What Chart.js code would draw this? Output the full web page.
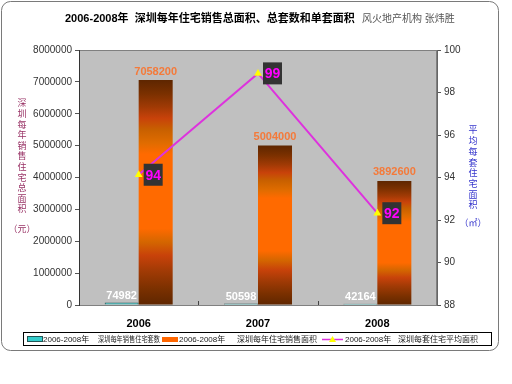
<!DOCTYPE html>
<html>
<head>
<meta charset="utf-8">
<script src="https://cdn.jsdelivr.net/npm/chart.js@4"></script>
<style>
  body { margin: 0; background: #fff; }
  canvas { display: block; }
</style>
</head>
<body>
<canvas id="myChart" width="512" height="384"></canvas>
<script>
// data
var years = ['2006', '2007', '2008'];
var unitCounts = [74982, 50598, 42164];          // 套数
var totalArea = [7058200, 5004000, 3892600];     // 总面积
var avgArea = [94.13, 98.90, 92.32];             // 单套面积
var avgLabels = ['94', '99', '92'];

var seriesNames = [
  ['2006-2008年', '深圳每年销售住宅套数'],
  ['2006-2008年', '深圳每年住宅销售面积'],
  ['2006-2008年', '深圳每套住宅平均面积']
];

var FONT = '"Liberation Sans", "Noto Sans CJK SC", sans-serif';

// brown -> orange -> brown banding of the big bars
function barGradient(c) {
  if (c.type !== 'data') return '#ff6600';
  var chart = c.chart;
  var y = chart.scales.y;
  if (!chart.chartArea || !y) return '#ff6600';
  var top = y.getPixelForValue(c.raw), base = y.getPixelForValue(0);
  var g = chart.ctx.createLinearGradient(0, top, 0, base);
  g.addColorStop(0, '#5e2600');
  g.addColorStop(0.06, '#7a3000');
  g.addColorStop(0.12, '#a03a05');
  g.addColorStop(0.17, '#c8420a');
  g.addColorStop(0.22, '#c86000');
  g.addColorStop(0.28, '#e06c00');
  g.addColorStop(0.33, '#ff6a00');
  g.addColorStop(0.66, '#ff6a00');
  g.addColorStop(0.72, '#d46600');
  g.addColorStop(0.78, '#c8420a');
  g.addColorStop(0.85, '#a03a05');
  g.addColorStop(0.93, '#7a3000');
  g.addColorStop(1, '#5e2600');
  return g;
}

var decor = {
  id: 'decor',
  beforeDraw: function(chart) {
    var ctx = chart.ctx, a = chart.chartArea;
    ctx.save();
    ctx.fillStyle = '#fff';
    ctx.fillRect(0, 0, chart.width, chart.height);
    // outer frame
    ctx.strokeStyle = '#7a7a7a';
    ctx.lineWidth = 1;
    ctx.beginPath();
    ctx.roundRect(1.5, 1.5, 497, 349, 9);
    ctx.stroke();
    // plot area
    ctx.fillStyle = '#c0c0c0';
    ctx.fillRect(a.left, a.top, a.right - a.left, a.bottom - a.top);
    ctx.strokeStyle = '#808080';
    ctx.strokeRect(a.left + 0.5, a.top + 0.5, a.right - a.left - 1, a.bottom - a.top);
    ctx.restore();
  },
  afterDraw: function(chart) {
    var ctx = chart.ctx, a = chart.chartArea;
    ctx.save();
    // title
    ctx.textBaseline = 'middle';
    ctx.textAlign = 'left';
    ctx.fillStyle = '#000';
    ctx.font = 'bold 11px ' + FONT;
    ctx.fillText('2006-2008年  深圳每年住宅销售总面积、总套数和单套面积', 65, 19, 291);
    ctx.fillStyle = '#555';
    ctx.font = '10px ' + FONT;
    ctx.fillText('风火地产机构 张炜胜', 362, 19, 93);

    // axis titles, one character per line
    ctx.textAlign = 'center';
    ctx.font = '9px ' + FONT;
    ctx.fillStyle = '#993366';
    var t1 = Array.from('深圳每年销售住宅总面积');
    t1.forEach(function(ch, i) { ctx.fillText(ch, 22, 104 + i * 10.6); });
    ctx.fillText('（元）', 22, 230);
    ctx.fillStyle = '#3333cc';
    var t2 = Array.from('平均每套住宅面积');
    t2.forEach(function(ch, i) { ctx.fillText(ch, 473, 131 + i * 10.7); });
    ctx.fillText('（㎡）', 473, 224);

    // small inward ticks between categories
    var xs = chart.scales.x;
    ctx.strokeStyle = '#444';
    for (var k = 1; k < years.length; k++) {
      var bx = Math.round((xs.getPixelForTick(k - 1) + xs.getPixelForTick(k)) / 2) + 0.5;
      ctx.beginPath();
      ctx.moveTo(bx, a.bottom - 4);
      ctx.lineTo(bx, a.bottom);
      ctx.stroke();
    }

    // bar value labels
    ctx.textBaseline = 'bottom';
    var m0 = chart.getDatasetMeta(0), m1 = chart.getDatasetMeta(1), m2 = chart.getDatasetMeta(2);
    ctx.font = 'bold 11px ' + FONT;
    ctx.fillStyle = '#ffffff';
    m0.data.forEach(function(el, i) { ctx.fillText(String(unitCounts[i]), el.x, el.y - 1); });
    ctx.fillStyle = '#f47a3a';
    m1.data.forEach(function(el, i) { ctx.fillText(String(totalArea[i]), el.x, el.y - 3); });

    // line point labels in dark boxes
    ctx.textBaseline = 'middle';
    m2.data.forEach(function(el, i) {
      ctx.fillStyle = '#333333';
      ctx.fillRect(el.x + 5, el.y - 11, 19, 22);
      ctx.fillStyle = '#ff00ff';
      ctx.font = 'bold 14px ' + FONT;
      ctx.fillText(avgLabels[i], el.x + 14.5, el.y + 1);
    });

    // legend
    ctx.strokeStyle = '#000';
    ctx.lineWidth = 1;
    ctx.strokeRect(23.5, 332.5, 468, 13);
    var items = [
      { sw: 27, yr: 43, name: 98, end: 160 },
      { sw: 162, yr: 179, name: 237, end: 319 },
      { sw: 322, yr: 345, name: 398, end: 488 }
    ];
    ctx.textAlign = 'left';
    ctx.font = '8px ' + FONT;
    items.forEach(function(it, i) {
      if (i === 0) {
        ctx.fillStyle = '#33cccc';
        ctx.fillRect(it.sw, 337, 16, 4);
        ctx.strokeStyle = '#225555';
        ctx.strokeRect(it.sw + 0.5, 336.5, 15, 5);
      } else if (i === 1) {
        ctx.fillStyle = '#ff6600';
        ctx.fillRect(it.sw, 337, 16, 5);
      } else {
        ctx.strokeStyle = '#dd33dd';
        ctx.lineWidth = 1.5;
        ctx.beginPath();
        ctx.moveTo(it.sw, 339.5);
        ctx.lineTo(it.sw + 21, 339.5);
        ctx.stroke();
        ctx.fillStyle = '#ffff00';
        ctx.beginPath();
        ctx.moveTo(it.sw + 10.5, 336);
        ctx.lineTo(it.sw + 14, 342);
        ctx.lineTo(it.sw + 7, 342);
        ctx.closePath();
        ctx.fill();
      }
      ctx.fillStyle = '#222';
      ctx.fillText(seriesNames[i][0], it.yr, 339.5, it.name - it.yr - 6);
      ctx.fillText(seriesNames[i][1], it.name, 339.5, it.end - it.name);
    });
    ctx.restore();
  }
};

var ctx = document.getElementById('myChart').getContext('2d');

var config = {
  type: 'bar',
  data: {
    labels: years,
    datasets: [{
      label: seriesNames[0].join('   '),
      data: unitCounts,
      yAxisID: 'y',
      backgroundColor: '#33cccc',
      borderColor: '#225555',
      borderWidth: 1,
      categoryPercentage: 0.57,
      barPercentage: 1,
      order: 1
    }, {
      label: seriesNames[1].join('   '),
      data: totalArea,
      yAxisID: 'y',
      backgroundColor: barGradient,
      borderWidth: 0,
      categoryPercentage: 0.57,
      barPercentage: 1,
      order: 2
    }, {
      type: 'line',
      label: seriesNames[2].join('   '),
      data: avgArea,
      yAxisID: 'y2',
      borderColor: '#dd33dd',
      borderWidth: 2,
      pointStyle: 'triangle',
      pointRadius: 4.5,
      pointBackgroundColor: '#ffff00',
      pointBorderColor: '#ffff00',
      pointBorderWidth: 0,
      tension: 0,
      order: 0
    }]
  },
  options: {
    responsive: false,
    animation: false,
    devicePixelRatio: 1,
    layout: { padding: { left: 0, right: 0, top: 50, bottom: 49 } },
    plugins: {
      legend: { display: false },
      title: { display: false },
      tooltip: { enabled: false }
    },
    scales: {
      x: {
        grid: { display: false },
        border: { display: false },
        ticks: { color: '#000', font: { family: FONT, size: 11, weight: 'bold' }, padding: 4 },
        afterFit: function(s) { s.height = 30; }
      },
      y: {
        position: 'left',
        min: 0,
        max: 8000000,
        ticks: {
          stepSize: 1000000, color: '#333', font: { family: FONT, size: 10 }, padding: 3,
          callback: function(v) { return String(v); }
        },
        grid: { drawOnChartArea: false, tickLength: 4, color: '#555' },
        border: { color: '#333' },
        afterFit: function(s) { s.width = 79; }
      },
      y2: {
        position: 'right',
        min: 88,
        max: 100,
        ticks: { stepSize: 2, color: '#333', font: { family: FONT, size: 10 }, padding: 3 },
        grid: { drawOnChartArea: false, tickLength: 4, color: '#555' },
        border: { color: '#666' },
        afterFit: function(s) { s.width = 75; }
      }
    }
  },
  plugins: [decor]
};

var myChart = new Chart(ctx, config);
</script>
</body>
</html>
